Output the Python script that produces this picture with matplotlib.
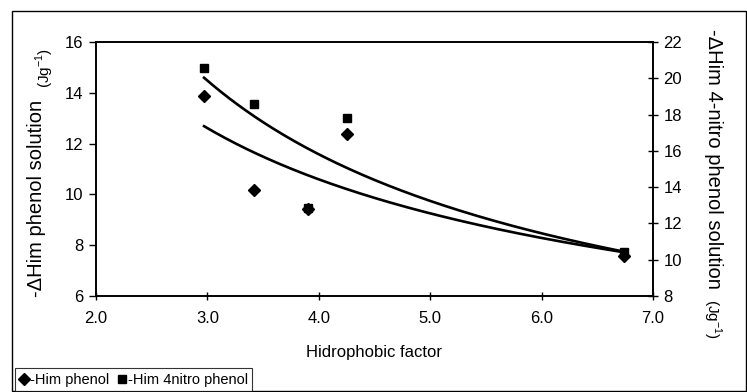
import numpy as np
import matplotlib
matplotlib.use("Agg")
import matplotlib.pyplot as plt
from matplotlib.lines import Line2D
from matplotlib.patches import Rectangle

plt.rcParams['font.family'] = ['Liberation Sans', 'DejaVu Sans']

# Data
hydrophobic = np.array([2.97, 3.42, 4.25, 3.90, 6.74])
phenol = np.array([13.89, 10.19, 12.38, 9.42, 7.59])
nitrophenol = np.array([20.57, 18.60, 17.83, 12.83, 10.40])

x_ticks = [2.0, 3.0, 4.0, 5.0, 6.0, 7.0]
left_ticks = [6, 8, 10, 12, 14, 16]
right_ticks = [8, 10, 12, 14, 16, 18, 20, 22]

W, H = 747, 392
fig = plt.figure(figsize=(W / 100, H / 100), dpi=100)

# Outer chart frame
fig.patches.append(Rectangle((12 / W, 1 / H), (746 - 12) / W, (391 - 11) / H,
                             transform=fig.transFigure, fill=False,
                             edgecolor='black', linewidth=1.0))

ax = fig.add_axes([96 / W, 1 - 296 / H, (653 - 96) / W, (296 - 42) / H])
ax2 = ax.twinx()


def power_fit(x, y):
    b, a = np.polyfit(np.log(x), np.log(y), 1)
    xs = np.linspace(x.min(), x.max(), 200)
    return xs, np.exp(a) * xs ** b


xs, ys = power_fit(hydrophobic, phenol)
ax.plot(xs, ys, color='black', lw=1.9, zorder=3)
ax.plot(hydrophobic, phenol, linestyle='none', marker='D', ms=6.2,
        color='black', zorder=4)

xs2, ys2 = power_fit(hydrophobic, nitrophenol)
ax2.plot(xs2, ys2, color='black', lw=1.9, zorder=3)
ax2.plot(hydrophobic, nitrophenol, linestyle='none', marker='s', ms=6.2,
         color='black', zorder=4)

ax.set_xlim(2.0, 7.0)
ax.set_ylim(6, 16)
ax2.set_ylim(8, 22)
ax.set_xticks(x_ticks)
ax.set_xticklabels([f"{v:.1f}" for v in x_ticks])
ax.set_yticks(left_ticks)
ax2.set_yticks(right_ticks)

ax.tick_params(axis='x', direction='inout', length=6, width=1, labelsize=12, pad=8)
ax.tick_params(axis='y', direction='out', length=5, width=1, labelsize=12, pad=4)
ax2.tick_params(axis='y', direction='inout', length=7, width=1, labelsize=12, pad=4)
for a in (ax, ax2):
    for s in a.spines.values():
        s.set_linewidth(1.2)

# X label
fig.text(374 / W, 1 - 352 / H, 'Hidrophobic factor', ha='center', va='center',
         fontsize=12)

# Left y label
fig.text(37 / W, 1 - 198 / H, '-ΔHim phenol solution', rotation=90,
         ha='center', va='center', fontsize=14.5)
fig.text(45 / W, 1 - 68 / H, r'(Jg$^{\mathregular{-1}}$)', rotation=90,
         ha='center', va='center', fontsize=11)

# Right y label
fig.text(714 / W, 1 - 159 / H, '-ΔHim 4-nitro phenol solution', rotation=270,
         ha='center', va='center', fontsize=14.5)
fig.text(712 / W, 1 - 319 / H, r'(Jg$^{\mathregular{-1}}$)', rotation=270,
         ha='center', va='center', fontsize=11)

handles = [Line2D([], [], linestyle='none', marker='D', ms=6, color='black'),
           Line2D([], [], linestyle='none', marker='s', ms=6, color='black')]
leg = fig.legend(handles, ['-Him phenol', '-Him 4nitro phenol'], ncol=2,
                 loc='lower left', bbox_to_anchor=(15 / W, 1 / H),
                 frameon=True, fancybox=False, fontsize=10.5,
                 handlelength=0.6, handletextpad=0.1, columnspacing=0.6,
                 borderpad=0.3, borderaxespad=0)
leg.get_frame().set_edgecolor('black')
leg.get_frame().set_linewidth(0.8)

fig.savefig('out.png', dpi=100)
